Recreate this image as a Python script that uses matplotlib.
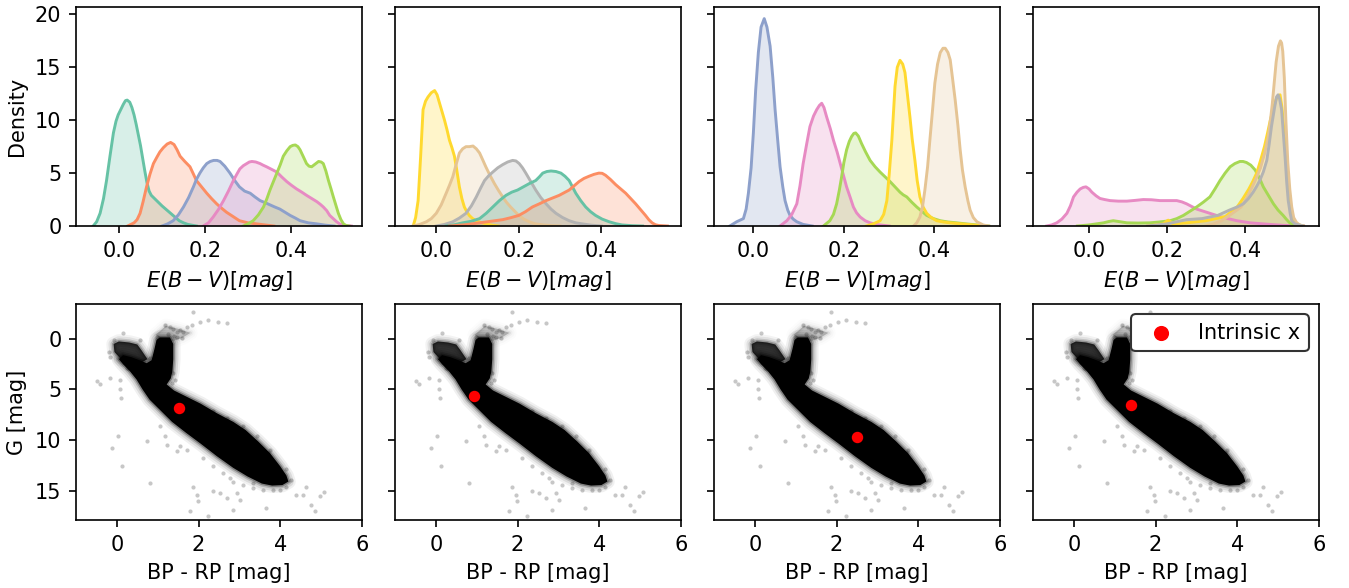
import matplotlib.pyplot as plt
from matplotlib.patches import Polygon

W, H, DPI = 1349, 588, 150

# Set2 colours
green, orange, blue, pink = '#66c2a5', '#fc8d62', '#8da0cb', '#e78ac3'
lime, yellow, tan, grey = '#a6d854', '#ffd92f', '#e5c494', '#b3b3b3'

# ---- E(B-V) posterior densities, one panel per star ----
p1_green_x = [-0.06, -0.052, -0.044, -0.036, -0.029, -0.021, -0.013, -0.007, -0.002, 0.004, 0.01, 0.015, 0.019, 0.025, 0.03, 0.035,
              0.04, 0.045, 0.05, 0.055, 0.06, 0.065, 0.07, 0.075, 0.08, 0.09, 0.1, 0.11, 0.12, 0.13, 0.14, 0.15, 0.16, 0.18]
p1_green_d = [0, 0.4, 1.2, 2.6, 4.3, 6.6, 8.8, 9.9, 10.5, 11.0, 11.5, 11.85, 11.9, 11.7, 11.2, 10.5,
              9.6, 8.6, 7.6, 6.4, 5.2, 4.1, 3.3, 2.9, 2.7, 2.3, 1.9, 1.55, 1.2, 0.85, 0.5, 0.3, 0.15, 0]
p1_orange_x = [0.02, 0.035, 0.042, 0.049, 0.056, 0.064, 0.072, 0.08, 0.088, 0.095, 0.103, 0.112, 0.12, 0.128, 0.135, 0.142, 0.153,
               0.165, 0.172, 0.18, 0.192, 0.204, 0.215, 0.227, 0.238, 0.25, 0.265, 0.28, 0.3, 0.32, 0.34, 0.36]
p1_orange_d = [0, 0.3, 0.6, 1.2, 2.3, 3.7, 4.9, 5.9, 6.5, 7.0, 7.4, 7.75, 7.9, 7.7, 7.2, 6.6, 6.1,
               5.6, 5.0, 4.3, 3.7, 3.1, 2.6, 2.1, 1.7, 1.3, 0.9, 0.5, 0.3, 0.2, 0.1, 0]
p1_blue_x = [0.1, 0.113, 0.126, 0.138, 0.15, 0.162, 0.173, 0.18, 0.188, 0.196, 0.204, 0.212, 0.22, 0.228, 0.235, 0.246, 0.258,
             0.269, 0.28, 0.292, 0.305, 0.316, 0.328, 0.34, 0.351, 0.362, 0.374, 0.386, 0.398, 0.41, 0.421, 0.44, 0.46, 0.48, 0.5]
p1_blue_d = [0, 0.2, 0.5, 1.05, 1.8, 2.7, 3.7, 4.4, 5.0, 5.5, 5.9, 6.1, 6.2, 6.2, 6.1, 5.65, 5.0,
             4.3, 3.7, 3.3, 3.1, 2.75, 2.4, 2.2, 2.0, 1.8, 1.6, 1.3, 1.0, 0.75, 0.5, 0.3, 0.2, 0.08, 0]
p1_pink_x = [0.196, 0.208, 0.219, 0.231, 0.243, 0.255, 0.266, 0.274, 0.281, 0.289, 0.297, 0.303, 0.309, 0.318, 0.328, 0.335, 0.343,
             0.355, 0.367, 0.378, 0.39, 0.401, 0.413, 0.425, 0.436, 0.448, 0.46, 0.468, 0.475, 0.483, 0.49, 0.498, 0.506, 0.513, 0.52, 0.53, 0.54]
p1_pink_d = [0, 0.3, 0.85, 1.55, 2.4, 3.35, 4.3, 4.9, 5.4, 5.7, 5.9, 6.05, 6.1, 6.05, 5.9, 5.75, 5.6,
             5.35, 5.1, 4.65, 4.2, 3.85, 3.5, 3.2, 2.9, 2.6, 2.3, 2.05, 1.8, 1.45, 1.0, 0.7, 0.4, 0.2, 0.1, 0.03, 0]
p1_lime_x = [0.289, 0.3, 0.312, 0.324, 0.336, 0.344, 0.351, 0.359, 0.367, 0.375, 0.382, 0.39, 0.398, 0.404, 0.41, 0.416, 0.421, 0.428,
             0.436, 0.442, 0.448, 0.456, 0.464, 0.47, 0.475, 0.481, 0.487, 0.493, 0.498, 0.504, 0.51, 0.516, 0.522, 0.528, 0.535]
p1_lime_d = [0, 0.2, 0.5, 1.05, 1.8, 2.6, 3.4, 4.2, 5.0, 5.8, 6.6, 7.1, 7.5, 7.62, 7.66, 7.5, 7.2, 6.6,
             5.9, 5.65, 5.6, 5.85, 6.1, 6.05, 5.9, 5.2, 4.3, 3.5, 2.8, 2.0, 1.2, 0.6, 0.2, 0.05, 0]

p2_yellow_x = [-0.056, -0.05, -0.044, -0.038, -0.032, -0.026, -0.02, -0.012, -0.004, 0.002, 0.008, 0.014, 0.02, 0.026, 0.032, 0.038,
               0.044, 0.05, 0.056, 0.062, 0.068, 0.074, 0.08, 0.088, 0.097, 0.108, 0.12, 0.135, 0.15]
p2_yellow_d = [0, 0.8, 2.4, 6.5, 11.0, 11.8, 12.2, 12.6, 12.8, 12.4, 11.6, 10.8, 10.0, 9.1, 8.1, 7.4,
               6.6, 5.2, 3.7, 2.6, 1.8, 1.35, 1.0, 0.7, 0.5, 0.33, 0.2, 0.08, 0]
p2_tan_x = [-0.056, -0.04, -0.024, -0.012, 0.0, 0.012, 0.024, 0.032, 0.04, 0.048, 0.056, 0.064, 0.072, 0.08, 0.089, 0.097, 0.105,
            0.112, 0.12, 0.13, 0.141, 0.151, 0.161, 0.17, 0.18, 0.19, 0.2, 0.212, 0.225, 0.24, 0.26, 0.28, 0.3]
p2_tan_d = [0, 0.15, 0.4, 0.7, 1.2, 2.0, 3.1, 3.85, 4.65, 5.8, 6.9, 7.3, 7.5, 7.5, 7.56, 7.3, 6.9,
            6.3, 5.6, 4.8, 4.0, 3.35, 2.75, 2.25, 1.8, 1.4, 1.0, 0.65, 0.4, 0.2, 0.1, 0.04, 0]
p2_grey_x = [0.0, 0.02, 0.04, 0.056, 0.072, 0.085, 0.097, 0.107, 0.117, 0.127, 0.137, 0.149, 0.161, 0.173, 0.185, 0.193, 0.201, 0.209,
             0.217, 0.229, 0.241, 0.253, 0.266, 0.278, 0.29, 0.306, 0.322, 0.338, 0.354, 0.375, 0.4]
p2_grey_d = [0, 0.15, 0.4, 0.75, 1.2, 1.9, 2.75, 3.55, 4.3, 4.75, 5.1, 5.5, 5.8, 6.05, 6.2, 6.15, 5.9, 5.5,
             5.0, 4.2, 3.4, 2.7, 2.1, 1.6, 1.2, 0.8, 0.5, 0.3, 0.2, 0.08, 0]
p2_green_x = [0.024, 0.044, 0.064, 0.085, 0.105, 0.121, 0.137, 0.153, 0.169, 0.183, 0.197, 0.211, 0.225, 0.233, 0.241, 0.25, 0.258,
              0.268, 0.278, 0.29, 0.302, 0.312, 0.322, 0.33, 0.338, 0.35, 0.362, 0.374, 0.386, 0.402, 0.419, 0.435, 0.45, 0.475, 0.5]
p2_green_d = [0, 0.12, 0.3, 0.45, 0.7, 1.2, 1.8, 2.4, 2.9, 3.2, 3.4, 3.7, 4.0, 4.15, 4.3, 4.65, 5.0,
              5.15, 5.2, 5.15, 5.0, 4.7, 4.3, 3.7, 3.1, 2.4, 1.8, 1.35, 1.0, 0.65, 0.4, 0.22, 0.1, 0.03, 0]
p2_orange_x = [0.032, 0.07, 0.105, 0.133, 0.161, 0.18, 0.2, 0.216, 0.233, 0.25, 0.266, 0.282, 0.298, 0.31, 0.322, 0.334, 0.346, 0.358,
               0.37, 0.382, 0.394, 0.402, 0.41, 0.422, 0.435, 0.447, 0.459, 0.471, 0.483, 0.495, 0.507, 0.515, 0.523, 0.531, 0.539, 0.56]
p2_orange_d = [0, 0.12, 0.3, 0.45, 0.6, 0.78, 1.0, 1.35, 1.8, 2.1, 2.4, 2.65, 2.9, 3.15, 3.4, 3.8, 4.2, 4.5,
               4.7, 4.88, 5.0, 4.98, 4.8, 4.4, 3.9, 3.5, 3.1, 2.6, 2.1, 1.55, 1.0, 0.6, 0.3, 0.12, 0.05, 0]

p3_blue_x = [-0.052, -0.037, -0.022, -0.016, -0.011, -0.005, 0.0, 0.005, 0.011, 0.017, 0.024, 0.03, 0.037, 0.043, 0.048, 0.054, 0.059,
             0.065, 0.07, 0.076, 0.081, 0.088, 0.096, 0.11, 0.13]
p3_blue_d = [0, 0.4, 0.7, 1.6, 3.1, 5.5, 8.8, 12.8, 16.4, 18.8, 19.6, 18.8, 17.0, 14.0, 11.0, 8.0, 5.6,
             3.7, 2.4, 1.5, 1.0, 0.65, 0.4, 0.15, 0]
p3_pink_x = [0.059, 0.074, 0.085, 0.096, 0.103, 0.11, 0.118, 0.125, 0.133, 0.14, 0.146, 0.151, 0.156, 0.162, 0.17, 0.177, 0.185,
             0.192, 0.199, 0.206, 0.214, 0.221, 0.228, 0.236, 0.247, 0.258, 0.27, 0.28, 0.3]
p3_pink_d = [0, 0.5, 1.1, 2.1, 3.8, 5.9, 7.8, 9.4, 10.4, 11.0, 11.4, 11.6, 11.2, 10.3, 9.2, 8.1, 7.0,
             5.9, 4.8, 3.7, 2.7, 1.8, 1.25, 0.85, 0.5, 0.3, 0.15, 0.1, 0]
p3_lime_x = [0.155, 0.169, 0.177, 0.184, 0.19, 0.195, 0.2, 0.206, 0.212, 0.217, 0.222, 0.226, 0.232, 0.239, 0.248, 0.258, 0.269,
             0.28, 0.291, 0.302, 0.313, 0.324, 0.331, 0.339, 0.35, 0.361, 0.372, 0.383, 0.398, 0.413, 0.43, 0.449, 0.47, 0.494, 0.52]
p3_lime_d = [0, 0.5, 1.1, 2.1, 3.4, 4.65, 6.0, 7.2, 8.0, 8.45, 8.75, 8.8, 8.5, 7.8, 7.0, 6.2, 5.6,
             5.1, 4.65, 4.2, 3.7, 3.2, 2.95, 2.75, 2.25, 1.8, 1.4, 1.0, 0.7, 0.5, 0.38, 0.3, 0.2, 0.1, 0]
p3_yellow_x = [0.25, 0.265, 0.28, 0.288, 0.295, 0.3, 0.306, 0.31, 0.313, 0.318, 0.324, 0.33, 0.335, 0.34, 0.346, 0.351, 0.357,
               0.362, 0.368, 0.375, 0.383, 0.393, 0.405, 0.42, 0.435, 0.46, 0.486, 0.51]
p3_yellow_d = [0, 0.2, 0.5, 1.1, 2.4, 4.8, 8.1, 11.0, 13.2, 15.0, 15.66, 15.3, 14.5, 12.6, 10.3, 8.2, 6.2,
               4.3, 2.75, 1.8, 1.2, 0.8, 0.5, 0.38, 0.3, 0.2, 0.1, 0]
p3_tan_x = [0.354, 0.361, 0.368, 0.374, 0.379, 0.385, 0.39, 0.396, 0.401, 0.407, 0.413, 0.419, 0.424, 0.43, 0.435, 0.44, 0.446,
            0.452, 0.457, 0.462, 0.468, 0.474, 0.479, 0.486, 0.494, 0.508, 0.52]
p3_tan_d = [0, 0.3, 0.85, 1.9, 3.4, 5.6, 8.1, 11.0, 13.5, 15.3, 16.4, 16.8, 16.8, 16.4, 15.7, 14.0, 11.9,
            9.5, 7.2, 5.3, 3.7, 2.4, 1.5, 0.8, 0.4, 0.1, 0]

p4_pink_x = [-0.109, -0.096, -0.083, -0.07, -0.057, -0.048, -0.04, -0.031, -0.023, -0.015, -0.008, 0.0, 0.007, 0.018, 0.028, 0.04,
             0.054, 0.075, 0.097, 0.118, 0.139, 0.16, 0.182, 0.204, 0.225, 0.238, 0.25, 0.263, 0.276, 0.293, 0.31, 0.327, 0.344,
             0.362, 0.379, 0.396, 0.413, 0.44, 0.464, 0.5, 0.55]
p4_pink_d = [0, 0.1, 0.3, 0.65, 1.2, 1.9, 2.75, 3.2, 3.5, 3.65, 3.7, 3.5, 3.2, 2.85, 2.6, 2.5,
             2.4, 2.35, 2.35, 2.42, 2.5, 2.48, 2.4, 2.4, 2.4, 2.28, 2.1, 1.85, 1.6, 1.4, 1.2, 1.0, 0.8,
             0.65, 0.5, 0.4, 0.3, 0.22, 0.15, 0.06, 0]
p4_lime_x = [-0.03, 0.0, 0.037, 0.05, 0.062, 0.08, 0.097, 0.125, 0.156, 0.18, 0.208, 0.225, 0.242, 0.259, 0.276, 0.293, 0.31, 0.323,
             0.336, 0.349, 0.362, 0.374, 0.387, 0.395, 0.404, 0.415, 0.426, 0.437, 0.447, 0.46, 0.473, 0.485, 0.498, 0.507, 0.515,
             0.524, 0.532]
p4_lime_d = [0, 0.1, 0.3, 0.42, 0.5, 0.4, 0.3, 0.28, 0.3, 0.38, 0.5, 0.7, 1.0, 1.4, 1.8, 2.25, 2.75, 3.5,
             4.3, 5.0, 5.6, 5.9, 6.1, 6.1, 6.0, 5.75, 5.3, 4.55, 3.7, 2.9, 2.1, 1.5, 1.0, 0.6, 0.3,
             0.1, 0]
p4_yellow_x = [0.15, 0.19, 0.197, 0.203, 0.209, 0.215, 0.25, 0.3, 0.35, 0.38, 0.395, 0.41, 0.42, 0.43, 0.44, 0.45, 0.458, 0.465,
               0.473, 0.48, 0.485, 0.49, 0.495, 0.5, 0.505, 0.51, 0.515, 0.52, 0.53, 0.55]
p4_yellow_d = [0, 0.2, 0.4, 0.55, 0.4, 0.2, 0.3, 0.5, 0.9, 1.8, 2.6, 3.5, 4.2, 5.0, 6.2, 7.5, 8.8, 10.0,
               11.1, 12.0, 12.3, 12.4, 11.2, 9.0, 6.5, 4.0, 2.2, 1.0, 0.2, 0]
p4_tan_x = [0.3, 0.32, 0.34, 0.36, 0.379, 0.39, 0.405, 0.42, 0.43, 0.44, 0.45, 0.46, 0.465, 0.47, 0.475, 0.48, 0.486, 0.491,
            0.494, 0.497, 0.501, 0.505, 0.51, 0.515, 0.52, 0.525, 0.532, 0.54, 0.55]
p4_tan_d = [0, 0.2, 0.5, 1.0, 1.5, 1.8, 2.7, 3.8, 4.6, 5.5, 6.8, 8.5, 9.9, 11.5, 13.5, 15.5, 17.0, 17.5,
            17.3, 16.5, 14.0, 10.0, 6.0, 3.5, 1.8, 0.8, 0.35, 0.1, 0]
p4_grey_x = [0.15, 0.2, 0.25, 0.29, 0.33, 0.36, 0.38, 0.396, 0.409, 0.421, 0.43, 0.438, 0.447, 0.456, 0.462, 0.468, 0.476, 0.481,
             0.485, 0.489, 0.494, 0.498, 0.503, 0.507, 0.511, 0.516, 0.52, 0.528, 0.55]
p4_grey_d = [0, 0.2, 0.6, 0.7, 1.0, 1.5, 1.8, 2.1, 2.6, 3.2, 3.75, 4.3, 5.1, 6.2, 7.7, 9.4, 11.2, 12.2,
             12.4, 12.0, 11.0, 9.0, 6.5, 4.2, 2.4, 1.2, 0.5, 0.2, 0]

ebv_panels = [
    [(p1_green_x, p1_green_d, green), (p1_orange_x, p1_orange_d, orange), (p1_blue_x, p1_blue_d, blue),
     (p1_pink_x, p1_pink_d, pink), (p1_lime_x, p1_lime_d, lime)],
    [(p2_yellow_x, p2_yellow_d, yellow), (p2_tan_x, p2_tan_d, tan), (p2_grey_x, p2_grey_d, grey),
     (p2_green_x, p2_green_d, green), (p2_orange_x, p2_orange_d, orange)],
    [(p3_blue_x, p3_blue_d, blue), (p3_pink_x, p3_pink_d, pink), (p3_lime_x, p3_lime_d, lime),
     (p3_yellow_x, p3_yellow_d, yellow), (p3_tan_x, p3_tan_d, tan)],
    [(p4_pink_x, p4_pink_d, pink), (p4_lime_x, p4_lime_d, lime), (p4_yellow_x, p4_yellow_d, yellow),
     (p4_tan_x, p4_tan_d, tan), (p4_grey_x, p4_grey_d, grey)],
]
ebv_xlims = [(-0.10, 0.565), (-0.10, 0.593), (-0.087, 0.545), (-0.144, 0.59)]

# ---- Gaia CMD of the reference sample ----
# outline of the saturated core: giant branch + main sequence (BP-RP, G)
cmd_core_color = [0.15, 0.35, 0.55, 0.73, 0.85, 0.92, 0.97, 1.05, 1.3, 1.38, 1.38, 1.36, 1.32, 1.22,
                  1.4, 1.75, 2.05, 2.45, 2.85, 3.15, 3.45, 3.75, 4.0, 4.15, 4.2, 4.05, 3.8, 3.55,
                  3.2, 2.85, 2.45, 2.05, 1.7, 1.35, 1.05, 0.8, 0.63, 0.48, 0.32, 0.15, 0.05]
cmd_core_mag = [1.6, 1.8, 2.1, 2.4, 2.1, 1.0, 0.1, -0.15, -0.15, 0.5, 2.0, 3.2, 3.9, 4.5,
                5.1, 5.8, 6.4, 7.35, 8.2, 9.0, 10.1, 11.3, 12.6, 13.5, 14.1, 14.45, 14.5, 14.3,
                13.6, 12.75, 11.6, 10.35, 9.3, 8.2, 7.0, 6.0, 5.0, 4.0, 3.2, 2.5, 2.0]
# the less crowded blue arm at the top left
cmd_arm_color = [-0.08, 0.05, 0.3, 0.5, 0.6, 0.75, 0.62, 0.35, 0.1, -0.06]
cmd_arm_mag = [0.5, 0.25, 0.35, 0.55, 1.1, 2.0, 2.3, 2.2, 2.0, 1.3]
# thin cloud of bright giants above the branch
cmd_giant_color = [0.95, 1.2, 1.5, 1.8, 1.6, 1.38, 1.05]
cmd_giant_mag = [-0.4, -1.3, -1.0, -0.6, -0.1, 0.2, 0.0]
# sparse stars outside the dense sequence
star_color = [1.87, 2.03, 2.24, 2.48, 2.69, 1.83, 1.71, 1.55, 1.18, 1.3, 1.38, 1.46, 1.63, 0.16, -0.2,
              -0.16, -0.49, -0.41, 0.08, 0.07, 0.1, 0.04, -0.12, 0.12, 0.73, 1.06, 1.18, 1.22, 1.46,
              0.81, 1.87, 1.95, 1.99, 1.79, 2.24, 2.36, 2.52, 2.69, 2.85, 2.93, 3.01, 3.66, 3.7, 3.9,
              4.15, 4.39, 4.56, 4.64, 4.76, 4.84, 4.96, 5.08, 2.77, 3.34, 3.82, 1.25, 1.4, 1.6, 0.3,
              1.55, 1.71, 2.12, 2.36, 2.6, 2.85, 3.09, 3.34, 3.58, 3.99, 4.15, 4.27, 3.74, 3.42, 3.09,
              2.69, 2.36, 1.38, 1.42, 1.34, 0.81, 0.24, -0.16, -0.08, 0.57, 0.98, 1.46]
star_mag = [-2.7, -1.71, -1.88, -1.71, -1.61, -1.38, -1.2, -0.9, -1.38, -1.15, -0.95, -0.72, -0.72, -0.56, 1.25,
            3.88, 4.2, 4.5, 4.05, 5.0, 5.86, 9.6, 10.8, 12.6, 10.1, 8.65, 9.6, 10.5, 11.1,
            14.2, 14.6, 15.4, 16.05, 17.0, 17.5, 15.07, 15.2, 15.7, 16.9, 15.2, 15.9, 16.7, 11.3, 13.1,
            12.9, 15.4, 15.4, 14.6, 16.4, 17.0, 15.5, 15.1, 13.75, 14.2, 14.9, -0.5, -0.3, -0.1, 3.0,
            10.6, 10.95, 11.8, 12.6, 13.3, 14.1, 14.4, 14.7, 14.9, 14.9, 14.6, 13.9, 11.0, 9.6, 8.65,
            7.83, 7.17, 3.4, 4.05, 4.4, 1.9, 2.9, 1.74, 0.1, 0.1, -0.23, -0.23]

# intrinsic position of each target star
intrinsic_color = [1.52, 0.925, 2.49, 1.39]
intrinsic_mag = [6.84, 5.63, 9.74, 6.5]

plt.rcParams['font.size'] = 10
fig = plt.figure(figsize=(W / DPI, H / DPI), dpi=DPI)

lefts = [76, 395, 714, 1033]
pw = 286


def frac(left, top, width, height):
    return [left / W, 1 - (top + height) / H, width / W, height / H]


def soft_region(ax, xs, ys, core_alpha):
    pts = list(zip(xs, ys))
    for lw, a in [(7, 0.06), (5, 0.09), (3, 0.16), (1.5, 0.3)]:
        ax.add_patch(Polygon(pts, closed=True, facecolor='none', edgecolor='k', lw=lw, alpha=a * core_alpha,
                             joinstyle='round'))
    ax.add_patch(Polygon(pts, closed=True, facecolor='k', edgecolor='none', alpha=core_alpha))


for i, left in enumerate(lefts):
    ax = fig.add_axes(frac(left, 7, pw, 219))
    for x, d, c in ebv_panels[i]:
        ax.fill_between(x, d, color=c, alpha=0.25, lw=0)
        ax.plot(x, d, color=c, lw=1.4, solid_joinstyle='round')
    ax.set_xlim(*ebv_xlims[i])
    ax.set_ylim(0, 20.7)
    ax.set_yticks([0, 5, 10, 15, 20])
    ax.set_xticks([0.0, 0.2, 0.4])
    ax.set_xlabel(r'$E(B-V) [mag]$')
    if i == 0:
        ax.set_ylabel('Density')
    else:
        ax.set_yticklabels([])

    bx = fig.add_axes(frac(left, 304, pw, 216))
    soft_region(bx, cmd_giant_color, cmd_giant_mag, 0.22)
    soft_region(bx, cmd_arm_color, cmd_arm_mag, 0.8)
    soft_region(bx, cmd_core_color, cmd_core_mag, 1.0)
    bx.scatter(star_color, star_mag, s=4, c='k', alpha=0.22, linewidths=0)
    bx.scatter([intrinsic_color[i]], [intrinsic_mag[i]], s=20, c='red', zorder=5, label='Intrinsic x')
    bx.set_xlim(-1, 6)
    bx.set_ylim(17.9, -3.45)
    bx.set_xticks([0, 2, 4, 6])
    bx.set_yticks([0, 5, 10, 15])
    bx.set_xlabel('BP - RP [mag]')
    if i == 0:
        bx.set_ylabel('G [mag]')
    else:
        bx.set_yticklabels([])
    if i == 3:
        leg = bx.legend(loc='upper right', markerscale=1.4, framealpha=1, fancybox=True)
        leg.get_frame().set_edgecolor('0.2')

fig.savefig('out.png', dpi=DPI)
